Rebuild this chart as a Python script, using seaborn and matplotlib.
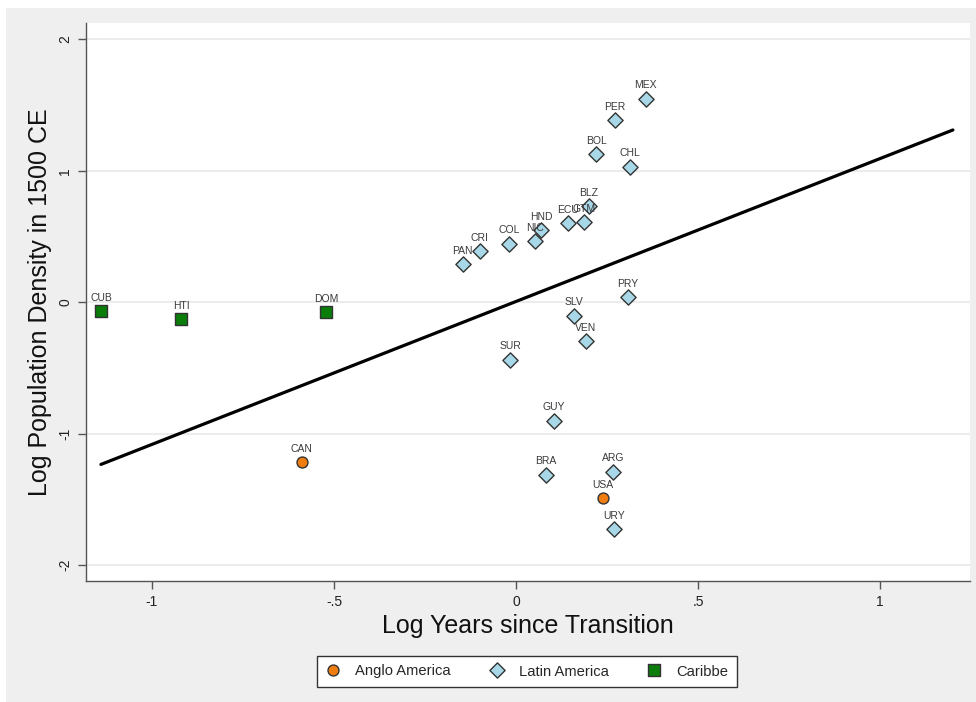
import matplotlib
matplotlib.use("Agg")
import matplotlib.pyplot as plt
import seaborn as sns
import pandas as pd
from matplotlib.patches import Rectangle

# ---- data ----
countries = ["CUB", "HTI", "DOM", "CAN", "USA",
             "PAN", "CRI", "COL", "NIC", "HND", "ECU", "GTM", "BLZ",
             "BOL", "CHL", "PER", "MEX", "PRY", "SLV", "VEN", "SUR",
             "GUY", "BRA", "ARG", "URY"]
log_years = [-1.140, -0.920, -0.522, -0.589, 0.238,
             -0.146, -0.100, -0.018, 0.053, 0.069, 0.142, 0.188, 0.200,
             0.220, 0.313, 0.272, 0.356, 0.307, 0.160, 0.192, -0.016,
             0.104, 0.082, 0.267, 0.270]
log_density = [-0.068, -0.129, -0.076, -1.219, -1.490,
               0.291, 0.386, 0.446, 0.466, 0.550, 0.600, 0.608, 0.732,
               1.125, 1.032, 1.384, 1.549, 0.036, -0.104, -0.299, -0.439,
               -0.903, -1.313, -1.290, -1.730]
region = ["Caribbe", "Caribbe", "Caribbe", "Anglo America", "Anglo America"] + ["Latin America"] * 20

fit_x = [-1.14, 1.20]
fit_y = [-1.235, 1.31]

region_order = ["Anglo America", "Latin America", "Caribbe"]
x_ticks = [-1, -0.5, 0, 0.5, 1]
x_ticklabels = ["-1", "-.5", "0", ".5", "1"]
y_ticks = [-2, -1, 0, 1, 2]
y_ticklabels = ["-2", "-1", "0", "1", "2"]

df = pd.DataFrame({"country": countries, "x": log_years, "y": log_density, "region": region})

# ---- style ----
sns.set_theme(style="white")
plt.rcParams["font.family"] = ["Liberation Sans", "DejaVu Sans"]

fig = plt.figure(figsize=(9.76, 7.02), dpi=100, facecolor="white")
fig.patches.append(Rectangle((6 / 976, 0), 1, 694 / 702, transform=fig.transFigure,
                             facecolor="#efefef", edgecolor="none", zorder=-10))
ax = fig.add_axes([86 / 976, 1 - 581 / 702, (970 - 86) / 976, (581 - 23) / 702])
ax.set_facecolor("white")

palette = {"Anglo America": "#f07d10", "Latin America": "#a8d8e8", "Caribbe": "#0a7d0a"}
markers = {"Anglo America": "o", "Latin America": "D", "Caribbe": "s"}
sizes_pt = {"Anglo America": 62, "Latin America": 60, "Caribbe": 68}

for g in region_order:
    sub = df[df["region"] == g]
    sns.scatterplot(data=sub, x="x", y="y", color=palette[g], marker=markers[g],
                    s=sizes_pt[g], edgecolor="#333333", linewidth=1.0, ax=ax,
                    label=g, zorder=4)

sns.lineplot(x=fit_x, y=fit_y, color="black", linewidth=2.3, ax=ax, zorder=3, legend=False)

for _, r in df.iterrows():
    ax.annotate(r["country"], (r["x"], r["y"]), xytext=(0, 6.0), textcoords="offset points",
                ha="center", va="bottom", fontsize=7.5, color="#3a3a3a", zorder=5)

ax.set_xlim(-1.181, 1.247)
ax.set_ylim(-2.122, 2.124)
ax.set_xticks(x_ticks)
ax.set_xticklabels(x_ticklabels)
ax.set_yticks(y_ticks)
ax.set_yticklabels(y_ticklabels, rotation=90, va="center")
ax.tick_params(axis="both", direction="out", length=6, width=1, color="#555555",
               labelsize=10, labelcolor="#222222", pad=4, left=True, bottom=True)
ax.grid(axis="y", color="#ececec", linewidth=1.5)
ax.grid(axis="x", visible=False)
ax.set_axisbelow(True)
for side in ["top", "right"]:
    ax.spines[side].set_visible(False)
for side in ["left", "bottom"]:
    ax.spines[side].set_color("#555555")
    ax.spines[side].set_linewidth(1.0)

ax.set_xlabel("Log Years since Transition", fontsize=18, color="#111111")
ax.set_ylabel("Log Population Density in 1500 CE", fontsize=18, color="#111111")
ax.xaxis.set_label_coords(0.5, (581 - 626) / 558)
ax.yaxis.set_label_coords((40 - 86) / 884, 0.5)
ax.xaxis.label.set_va("center")
ax.yaxis.label.set_va("center")

handles, labels = ax.get_legend_handles_labels()
order = [labels.index(g) for g in region_order]
leg = ax.legend([handles[i] for i in order], [labels[i] for i in order], ncol=3,
                loc="center", bbox_to_anchor=(527 / 976, 1 - 671.5 / 702),
                bbox_transform=fig.transFigure, frameon=True, fancybox=False,
                edgecolor="#333333", fontsize=10.6, columnspacing=2.6, handletextpad=1.0,
                handlelength=1.0, borderpad=0.6, framealpha=1, scatteryoffsets=[0.5])
leg.get_frame().set_linewidth(1.0)

fig.savefig("out.png", dpi=100, facecolor=fig.get_facecolor())
